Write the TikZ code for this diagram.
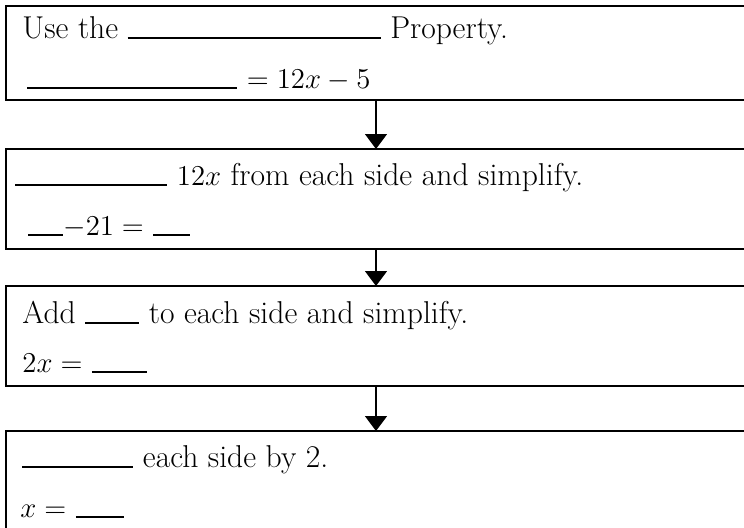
\documentclass[tikz,border=0pt]{standalone}
\usepackage{amsmath,amssymb}
\usepackage{tikz}
\usetikzlibrary{arrows.meta,positioning}
\tikzset{
  stepbox/.style={draw, line width=1.4pt, inner sep=0pt, outer sep=0pt, minimum width=370pt},
  steptext/.style={anchor=base west, inner sep=0pt, font=\fontsize{15.8}{19}\selectfont},
  steparrow/.style={line width=0.7pt, -{Triangle[width=11pt,length=7.5pt]}},
}
\newcommand{\blank}[1]{\rule[-0.3pt]{#1}{0.6pt}}

\begin{document}
\begin{tikzpicture}[x=0.5pt,y=-0.5pt]
        \useasboundingbox (0,0) rectangle (744,527);

        % Define the step boxes
        \node[stepbox, minimum height=47pt] (S1) at (376,53) {};
        \node[stepbox, minimum height=50pt] (S2) at (376,199) {};
        \node[stepbox, minimum height=50pt] (S3) at (376,336) {};
        \node[stepbox, minimum height=57pt] (S4) at (376,488) {};

        % Text of each step
        \node[steptext] (S1a) at (22,38) {Use the \blank{126.5pt} Property.};
        \node[steptext] (S1b) at (27,88) {\blank{105pt} $= 12x - 5$};
        \node[steptext] (S2a) at (15,185) {\blank{76pt} $12x$ from each side and simplify.};
        \node[steptext] (S2b) at (28,235) {\blank{17.5pt}${-21} =$ \blank{18.5pt}};
        \node[steptext] (S3a) at (22,323) {Add \blank{27pt} to each side and simplify.};
        \node[steptext] (S3b) at (22,372) {$2x =$ \blank{27.5pt}};
        \node[steptext] (S4a) at (22,467) {\blank{55.5pt} each side by 2.};
        \node[steptext] (S4b) at (20,517) {$x =$ \blank{24pt}};

        % Draw arrows
        \draw[steparrow] (S1) -- (S2);
        \draw[steparrow] (S2) -- (S3);
        \draw[steparrow] (S3) -- (S4);

\end{tikzpicture}
\end{document}
